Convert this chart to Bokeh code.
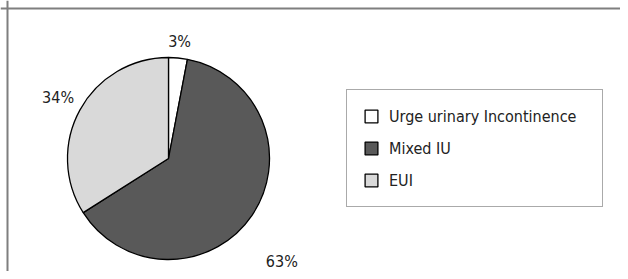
import math
from bokeh.plotting import figure
from bokeh.models import ColumnDataSource, Legend, LegendItem, Range1d, Span
from bokeh.embed import file_html
from bokeh.resources import INLINE
from bokeh.core.properties import value

# ---- data ----
categories = ["Urge urinary Incontinence", "Mixed IU", "EUI"]
percentages = [3, 63, 34]
label_texts = ["3%", "63%", "34%"]

# ---- style ----
colors = ["#ffffff", "#595959", "#d9d9d9"]
FONT = "'DejaVu Sans Condensed', 'Liberation Sans Narrow', 'Liberation Sans', sans-serif"
W, H = 620, 271
CX, CY, R = 168, 113, 101
label_radius = [118, 137, 126]
label_shift = [(0, 0), (0, -26), (0, 0)]

total = float(sum(percentages))
starts, ends, lx, ly = [], [], [], []
cum = 0.0
for i, v in enumerate(percentages):
    a0 = math.pi / 2 - 2 * math.pi * cum / total
    cum += v
    a1 = math.pi / 2 - 2 * math.pi * cum / total
    starts.append(a0)
    ends.append(a1)
    mid = (a0 + a1) / 2
    lx.append(CX + label_radius[i] * math.cos(mid) + label_shift[i][0])
    ly.append(CY + label_radius[i] * math.sin(mid) + label_shift[i][1])

src = ColumnDataSource(dict(lx=lx, ly=ly, txt=label_texts))

p = figure(width=W, height=H, output_backend="svg", toolbar_location=None,
           x_range=Range1d(0, W), y_range=Range1d(0, H),
           x_axis_location=None, y_axis_location=None, min_border=0)
p.grid.visible = False
p.outline_line_color = None
p.background_fill_color = "white"
p.border_fill_color = "white"

# frame lines (top and left visible)
p.add_layout(Span(location=7, dimension="height", line_color="#7f7f7f", line_width=2))
p.add_layout(Span(location=H - 8, dimension="width", line_color="#7f7f7f", line_width=2))

renderers = []
for i in range(len(categories)):
    r = p.wedge(x=CX, y=CY, radius=R, start_angle=starts[i], end_angle=ends[i],
                direction="clock", fill_color=colors[i], line_color="black", line_width=1.3)
    renderers.append(r)

p.text(x="lx", y="ly", text="txt", source=src, text_font=value(FONT),
       text_font_size="16px", text_color="#222222", text_align="center",
       text_baseline="middle")

legend = Legend(items=[LegendItem(label=categories[i], renderers=[renderers[i]]) for i in range(3)],
                location=(346, 64), orientation="vertical")
legend.label_text_font = FONT
legend.label_text_font_size = "16px"
legend.label_text_color = "#222222"
legend.glyph_width = 16
legend.glyph_height = 16
legend.label_height = 20
legend.label_standoff = 10
legend.spacing = 12
legend.padding = 16
legend.margin = 0
legend.label_width = 197
legend.border_line_color = "#555555"
legend.border_line_width = 1.5
legend.background_fill_alpha = 1.0
p.add_layout(legend, "center")

open("out.html", "w").write(file_html(p, INLINE))
